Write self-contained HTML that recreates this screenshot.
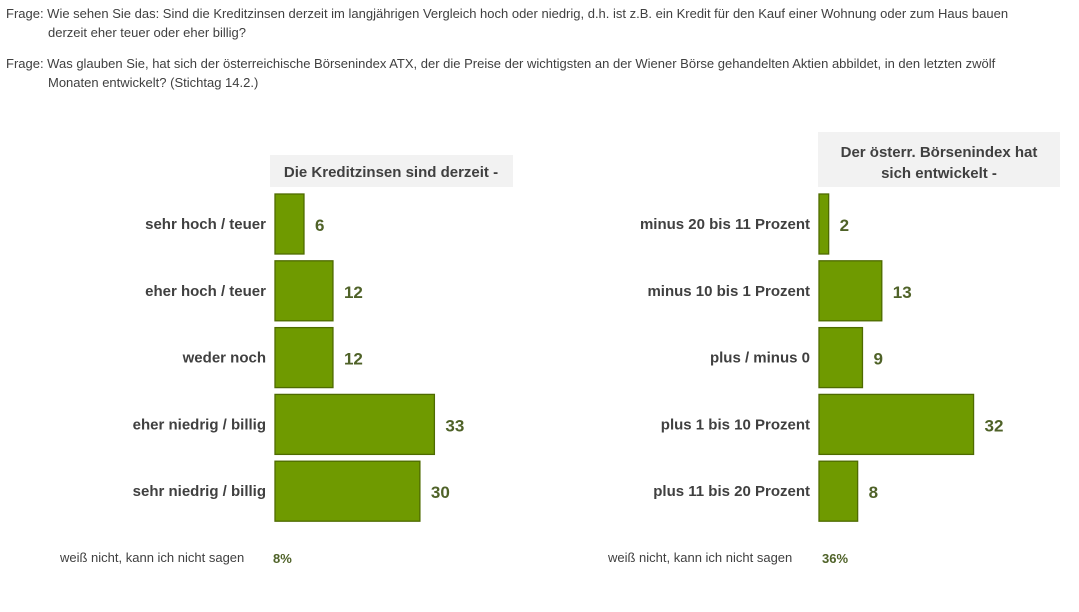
<!DOCTYPE html>
<html><head><meta charset="utf-8">
<style>
body{margin:0;width:1079px;height:612px;background:#fff;font-family:"Liberation Sans",sans-serif;color:#404040;overflow:hidden}
svg{position:absolute;left:0;top:0}
</style></head><body>
<svg id="chart" width="1079" height="612">
<g font-family="Liberation Sans, sans-serif" font-size="13" fill="#404040">
<text x="6" y="18">Frage: Wie sehen Sie das: Sind die Kreditzinsen derzeit im langjährigen Vergleich hoch oder niedrig, d.h. ist z.B. ein Kredit für den Kauf einer Wohnung oder zum Haus bauen</text>
<text x="48" y="37">derzeit eher teuer oder eher billig?</text>
<text x="6" y="68">Frage: Was glauben Sie, hat sich der österreichische Börsenindex ATX, der die Preise der wichtigsten an der Wiener Börse gehandelten Aktien abbildet, in den letzten zwölf</text>
<text x="48" y="87">Monaten entwickelt? (Stichtag 14.2.)</text>
</g>
<rect x="270" y="155" width="243" height="32" fill="#f2f2f2"/>
<text x="391" y="177" text-anchor="middle" font-size="15" font-weight="bold" fill="#404040">Die Kreditzinsen sind derzeit -</text>
<rect x="818" y="132" width="242" height="55" fill="#f2f2f2"/>
<text x="939" y="157" text-anchor="middle" font-size="15" font-weight="bold" fill="#404040">Der österr. Börsenindex hat</text>
<text x="939" y="178" text-anchor="middle" font-size="15" font-weight="bold" fill="#404040">sich entwickelt -</text>
<g id="bars"></g>
<text x="60" y="562" font-size="13" fill="#404040">weiß nicht, kann ich nicht sagen</text>
<text x="273" y="563" font-size="13" font-weight="bold" fill="#4f6228">8%</text>
<text x="608" y="562" font-size="13" fill="#404040">weiß nicht, kann ich nicht sagen</text>
<text x="822" y="563" font-size="13" font-weight="bold" fill="#4f6228">36%</text>
</svg>
<script>
const leftCategories=["sehr hoch / teuer","eher hoch / teuer","weder noch","eher niedrig / billig","sehr niedrig / billig"];
const leftValues=[6,12,12,33,30];
const rightCategories=["minus 20 bis 11 Prozent","minus 10 bis 1 Prozent","plus / minus 0","plus 1 bis 10 Prozent","plus 11 bis 20 Prozent"];
const rightValues=[2,13,9,32,8];
const NS="http://www.w3.org/2000/svg";
const g=document.getElementById('bars');
const scale=4.83, top0=194, pitch=66.8, bh=60;
function yPos(i){return top0+i*pitch;}
function xLen(v){return v*scale;}
function draw(cats,vals,x0,side){
  cats.forEach((c,i)=>{
    const y=yPos(i);
    const r=document.createElementNS(NS,'rect');
    r.setAttribute('x',x0);r.setAttribute('y',y);r.setAttribute('width',xLen(vals[i]));r.setAttribute('height',bh);
    r.setAttribute('fill','#6f9a00');r.setAttribute('stroke','#4e6b00');r.setAttribute('stroke-width','1.3');
    
    
    g.appendChild(r);
    const l=document.createElementNS(NS,'text');
    l.setAttribute('x',x0-9);l.setAttribute('y',y+bh/2+5);l.setAttribute('text-anchor','end');
    l.setAttribute('font-size','15');l.setAttribute('font-weight','bold');l.setAttribute('fill','#404040');
    l.textContent=c;
    
    
    g.appendChild(l);
    const v=document.createElementNS(NS,'text');
    v.setAttribute('x',x0+xLen(vals[i])+11);v.setAttribute('y',y+bh/2+7);
    v.setAttribute('font-size','17');v.setAttribute('font-weight','bold');v.setAttribute('fill','#4f6228');
    v.textContent=vals[i];
    
    
    g.appendChild(v);
  });
}
draw(leftCategories,leftValues,275,'left');
draw(rightCategories,rightValues,819,'right');
</script>
</body></html>
